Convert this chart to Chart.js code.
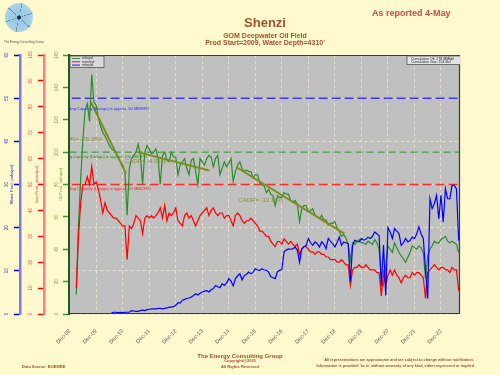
<!DOCTYPE html>
<html>
<head>
<meta charset="utf-8">
<script src="https://cdn.jsdelivr.net/npm/chart.js@4.4.1/dist/chart.umd.min.js"></script>
<style>
  body { margin: 0; background: #fffacd; font-family: "Liberation Sans", Arial, sans-serif; }
  #wrap { position: relative; width: 500px; height: 375px; overflow: hidden; }
  #shenziChart { position: absolute; left: 0; top: 0; }
  .t { position: absolute; white-space: nowrap; font-weight: bold; color: #a0522d; line-height: 1; }
  .c { transform: translateX(-50%); }
  .r { transform: translateX(-100%); text-align: right; }
  .logo {
    position: absolute; left: 5px; top: 3px; width: 28px; height: 29px; border-radius: 50%;
    background:
      radial-gradient(circle, #1d2a44 0 1.5px, rgba(0,0,0,0) 2.5px),
      repeating-conic-gradient(from 10deg, rgba(40,70,110,0.45) 0 5deg, rgba(0,0,0,0) 5deg 60deg),
      radial-gradient(circle, #8fc3e0 0, #b5dbee 100%);
  }
</style>
</head>
<body>
<div id="wrap">
  <canvas id="shenziChart" width="500" height="375"></canvas>

  <div class="logo"></div>
  <div class="t" style="left:4px;top:41px;font-size:3px;font-weight:normal;color:#555;">The Energy Consulting Group</div>

  <div class="t c" style="left:265px;top:16px;font-size:13px;">Shenzi</div>
  <div class="t c" style="left:265px;top:32px;font-size:7px;">GOM Deepwater Oil Field</div>
  <div class="t c" style="left:265px;top:39px;font-size:7px;">Prod Start=2009, Water Depth=4310'</div>
  <div class="t" style="left:372px;top:9px;font-size:9px;color:#c0504d;">As reported 4-May</div>

  <div class="t c" style="left:240px;top:353px;font-size:6px;">The Energy Consulting Group</div>
  <div class="t c" style="left:240px;top:359px;font-size:4px;">Copyright@2023</div>
  <div class="t c" style="left:240px;top:364.5px;font-size:4px;">All Rights Reserved</div>
  <div class="t" style="left:22px;top:364.5px;font-size:4px;">Data Source: BOEMRE</div>
  <div class="t r" style="left:474px;top:359px;font-size:3.8px;">All representations are approximate and are subject to change without notification.</div>
  <div class="t r" style="left:474px;top:364.5px;font-size:3.8px;">Information is provided 'as is' without warranty of any kind, either expressed or implied</div>
</div>

<script>
// x axis: months counted from Dec-08
const tickMonths = [0, 12, 24, 36, 48, 60, 72, 84, 96, 108, 120, 132, 144, 156, 168];
const tickLabels = ['Dec-08', 'Dec-09', 'Dec-10', 'Dec-11', 'Dec-12', 'Dec-13', 'Dec-14', 'Dec-15',
                    'Dec-16', 'Dec-17', 'Dec-18', 'Dec-19', 'Dec-20', 'Dec-21', 'Dec-22'];
const lastMonth = 176;

// monthly production, oil and gas from Mar-09, water from Jul-10
const oilStart = 3;
const oilMbopd = [
  12, 55, 84, 108, 126, 130, 119, 148, 131, 129, 121, 116,
  112, 110, 107, 104, 102, 101, 100, 96, 94, 92, 88, 61,
  90, 96, 98, 100, 105, 98, 80, 100, 104, 102, 99, 100,
  102, 96, 80, 98, 100, 95, 94, 100, 97, 97, 86, 92,
  94, 96, 90, 86, 95, 96, 88, 80, 96, 94, 92, 96,
  98, 97, 91, 96, 98, 86, 90, 94, 91, 93, 96, 82,
  88, 92, 94, 90, 88, 89, 88, 88, 84, 86, 86, 81,
  80, 79, 75, 77, 74, 73, 67, 73, 72, 72, 75, 74,
  74, 70, 69, 70, 68, 57, 65, 67, 67, 63, 64, 65,
  61, 60, 59, 61, 58, 58, 55, 56, 56, 57, 53, 51,
  48, 49, 47, 43, 33, 44, 43, 45, 46, 44, 44, 43,
  45, 44, 43, 46, 44, 40, 22, 18, 30, 42, 40, 38,
  44, 41, 38, 36, 34, 32, 35, 38, 42, 41, 40, 42,
  41, 38, 22, 36, 40, 42, 45, 44, 44, 46, 47, 48,
  45, 44, 45, 44, 43, 38
];
const gasStart = 3;
const gasMmcfpd = [
  10, 30, 43, 50, 50, 53, 50, 57, 50, 51, 48, 44,
  39, 43, 40, 39, 38, 37, 37, 36, 35, 34, 34, 21,
  34, 33, 35, 38, 37, 36, 31, 37, 38, 37, 38, 37,
  38, 39, 41, 37, 42, 36, 39, 38, 39, 41, 36, 35,
  34, 38, 39, 37, 38, 36, 34, 36, 38, 39, 40, 41,
  38, 40, 41, 39, 38, 39, 39, 37, 38, 38, 36, 34,
  38, 39, 38, 36, 35, 36, 36, 37, 36, 35, 34, 32,
  32, 31, 30, 30, 28, 27, 26, 28, 28, 27, 29, 28,
  27, 28, 27, 26, 27, 23, 25, 26, 26, 25, 24, 24,
  23, 24, 24, 23, 23, 22, 22, 21, 21, 21, 20, 20,
  21, 20, 19, 19, 11, 17, 18, 18, 19, 18, 18, 19,
  18, 17, 17, 17, 16, 16, 7, 16, 11, 15, 17, 15,
  17, 15, 14, 12, 14, 15, 14, 14, 16, 15, 16, 16,
  15, 14, 6, 16, 17, 18, 19, 18, 17, 18, 18, 17,
  17, 16, 18, 17, 17, 9
];
const waterStart = 19;
const waterMbwpd = [
  0.3, 0.4, 0.4, 0.3, 0.4, 0.3, 0.4, 0.4, 0.4, 0.8, 0.7, 0.6,
  0.6, 0.8, 0.9, 0.8, 1.0, 1.1, 1.2, 1.2, 1.2, 1.3, 1.3, 1.2,
  1.3, 1.4, 1.6, 1.6, 1.7, 2.0, 2.6, 2.5, 3.2, 3.4, 3.6, 3.7,
  3.9, 4.3, 4.7, 4.4, 4.8, 5.1, 5.3, 5.4, 5.1, 5.6, 5.9, 6.6,
  6.3, 6.1, 7.0, 6.6, 7.2, 8.2, 7.6, 6.5, 8.2, 8.8, 9.3, 7.9,
  8.9, 9.2, 9.7, 9.3, 9.7, 10.5, 10.2, 10.1, 10.5, 10.2, 10.1, 9.7,
  8.6, 8.4, 8.2, 9.8, 10.1, 10.3, 14.4, 14.8, 15.1, 15.0, 15.1, 15.5,
  14.8, 12.0, 15.1, 15.6, 15.9, 17.5, 16.5, 15.9, 16.7, 16.3, 15.5, 16.7,
  16.2, 15.1, 17.5, 16.8, 16.3, 15.5, 16.6, 17.8, 15.9, 16.7, 16.5, 16.3,
  7.4, 15.9, 17.1, 16.8, 16.7, 17.5, 17.1, 17.3, 17.8, 17.5, 18.0, 19.0,
  18.6, 18.2, 6.6, 16.0, 4.3, 20.0, 19.0, 17.5, 19.8, 19.2, 18.6, 15.9,
  16.5, 17.5, 16.7, 17.0, 17.8, 17.5, 18.5, 20.2, 18.5, 17.5, 10.1, 3.6,
  26.7, 24.4, 25.6, 27.5, 22.0, 27.5, 21.3, 29.0, 26.7, 26.7, 29.8, 29.8,
  29.0, 17.0
];

// decline trend lines on oil (month, mbopd)
const trendMonths = [[9.6, 25.5], [30.8, 63.2], [75.3, 124.3]];
const trendOil = [[131, 86.7], [100, 88.6], [90.8, 49.6]];
const cadrLabels = ['CADR= -28.26%', 'CADR= -4.51%', 'CADR= -13.16%'];

// design capacities
const capWater = 50, capOil = 100, capGas = 50;

const seriesLabels = ['mbopd', 'mmcfpd', 'mbwpd'];
const cumulativeText = ['Cumulative Oil: 278 MMbbl', 'Cumulative Gas: 154 Bcf'];

const FONT = '"Liberation Sans", Arial, sans-serif';
Chart.defaults.font.family = FONT;

const toPoints = (vals, start) => vals.map((v, i) => ({ x: start + i, y: v }));
const flat = (y) => [{ x: -5, y: y }, { x: lastMonth + 5, y: y }];

const datasets = [];
trendMonths.forEach((m, k) => {
  datasets.push({
    data: [{ x: m[0], y: trendOil[k][0] }, { x: m[1], y: trendOil[k][1] }],
    yAxisID: 'yOil', borderColor: '#7f8c1e', borderWidth: 2
  });
});
datasets.push(
  { label: seriesLabels[2], data: toPoints(waterMbwpd, waterStart), yAxisID: 'yWater', borderColor: '#0000ff', borderWidth: 1.2 },
  { label: seriesLabels[1], data: toPoints(gasMmcfpd, gasStart), yAxisID: 'yGas', borderColor: '#ff0000', borderWidth: 1.2 },
  { label: seriesLabels[0], data: toPoints(oilMbopd, oilStart), yAxisID: 'yOil', borderColor: '#2a8c2a', borderWidth: 1.2 },
  { data: flat(capWater), yAxisID: 'yWater', borderColor: '#3a3aff', borderWidth: 1.5, borderDash: [9, 4] },
  { data: flat(capOil), yAxisID: 'yOil', borderColor: '#1f991f', borderWidth: 1, borderDash: [7, 4] },
  { data: flat(capGas), yAxisID: 'yGas', borderColor: '#ff2a2a', borderWidth: 1.5, borderDash: [9, 4] }
);

function leftAxis(max, step, width, borderColor, tickColor, labelColor, pad, onChart) {
  return {
    type: 'linear', position: 'left', min: 0, max: max,
    ticks: { stepSize: step, color: labelColor, font: { size: 4.5 }, minRotation: 90, maxRotation: 90,
             crossAlign: 'center', padding: pad },
    grid: { display: true, drawOnChartArea: onChart, color: '#e6e2c4', lineWidth: 1,
            tickColor: tickColor, tickLength: 6, tickWidth: 1.5, tickBorderDash: [] },
    border: { display: true, color: borderColor, width: 2.5, dash: [3, 3] },
    afterFit: (s) => { s.width = width; }
  };
}

const capacityText = [
  { axis: 'yWater', value: capWater, prefix: 'Water Handling ', rest: 'Capacity (Design) is approx. 50 MBWPD', color: '#2b2bff', at: 8, dy: 11 },
  { axis: 'yOil', value: capOil, prefix: 'Oil Handling ', rest: 'Capacity (Design) is approx. 100 MBOPD', color: '#1f8f1f', at: 4, dy: 5 },
  { axis: 'yGas', value: capGas, prefix: 'Gas Handling ', rest: 'Capacity (Design) is approx. 50 MMCFPD', color: '#ff1a1a', at: 8, dy: 4.5 }
];
// label anchors in (month, mbopd)
const cadrAt = [[-5.2, 108], [25, 94.5], [76.3, 70.4]];
const axisTitles = [
  { axis: 'yWater', text: 'Water Prod. (mbwpd)', color: '#3333cc', inset: 8.5 },
  { axis: 'yGas', text: 'Gas Prod. (mmcfpd)', color: '#ff4040', inset: 7.5 },
  { axis: 'yOil', text: 'Oil Prod. (mbopd)', color: '#6fa544', inset: 8 }
];

const decor = {
  id: 'decor',
  beforeDraw(chart) {
    const { ctx, chartArea: a } = chart;
    ctx.save();
    ctx.fillStyle = '#c0c0c0';
    ctx.fillRect(a.left, a.top, a.right - a.left, a.bottom - a.top);
    ctx.restore();
  },
  afterDraw(chart) {
    const { ctx, chartArea: a, scales } = chart;
    ctx.save();
    // frame
    ctx.strokeStyle = '#3a3a3a';
    ctx.lineWidth = 1.2;
    ctx.beginPath();
    ctx.moveTo(a.left, a.top + 0.5); ctx.lineTo(a.right - 0.5, a.top + 0.5);
    ctx.lineTo(a.right - 0.5, a.bottom - 0.5); ctx.lineTo(a.left, a.bottom - 0.5);
    ctx.stroke();

    // texts inside the plot, clipped
    ctx.save();
    ctx.beginPath();
    ctx.rect(a.left + 1, a.top, a.right - a.left - 1, a.bottom - a.top);
    ctx.clip();
    ctx.textBaseline = 'middle';
    ctx.font = '4px ' + FONT;
    capacityText.forEach(c => {
      const y = scales[c.axis].getPixelForValue(c.value) + c.dy;
      const x = a.left + c.at - ctx.measureText(c.prefix).width;
      ctx.fillStyle = c.color;
      ctx.fillText(c.prefix + c.rest, x, y);
    });
    ctx.font = '6px ' + FONT;
    ctx.fillStyle = '#8d8d3a';
    cadrLabels.forEach((t, k) => {
      ctx.fillText(t, scales.x.getPixelForValue(cadrAt[k][0]), scales.yOil.getPixelForValue(cadrAt[k][1]));
    });

    // cumulative box
    ctx.fillStyle = '#e4e4e4';
    ctx.strokeStyle = '#555';
    ctx.lineWidth = 0.8;
    ctx.fillRect(407, a.top + 1, 60, 8.5);
    ctx.strokeRect(407, a.top + 1, 60, 8.5);
    ctx.fillStyle = '#222';
    ctx.font = '3.6px ' + FONT;
    cumulativeText.forEach((t, k) => ctx.fillText(t, 411, a.top + 3.6 + k * 3.4));
    ctx.restore();

    // legend
    const lx = a.left + 1, ly = a.top + 1;
    ctx.fillStyle = '#dadada';
    ctx.strokeStyle = '#555';
    ctx.lineWidth = 0.8;
    ctx.fillRect(lx, ly, 34, 11.5);
    ctx.strokeRect(lx, ly, 34, 11.5);
    ctx.font = '3.5px ' + FONT;
    ctx.textBaseline = 'middle';
    const legendColors = ['#2a8c2a', '#ff0000', '#0000ff'];
    seriesLabels.forEach((t, k) => {
      const y = ly + 2.5 + k * 3.3;
      ctx.strokeStyle = legendColors[k];
      ctx.lineWidth = 0.9;
      ctx.beginPath(); ctx.moveTo(lx + 2, y); ctx.lineTo(lx + 10, y); ctx.stroke();
      ctx.fillStyle = '#333';
      ctx.fillText(t, lx + 12, y);
    });

    // axis titles between tick labels and tick marks
    ctx.font = '4.2px ' + FONT;
    ctx.textAlign = 'center';
    axisTitles.forEach(t => {
      const s = scales[t.axis];
      ctx.save();
      ctx.translate(s.right - t.inset, (s.top + s.bottom) / 2);
      ctx.rotate(-Math.PI / 2);
      ctx.fillStyle = t.color;
      ctx.fillText(t.text, 0, 0);
      ctx.restore();
    });
    ctx.restore();
  }
};

new Chart(document.getElementById('shenziChart').getContext('2d'), {
  type: 'line',
  data: { datasets: datasets },
  plugins: [decor],
  options: {
    responsive: false,
    animation: false,
    layout: { padding: { left: 0, right: 40, top: 55, bottom: 21 } },
    elements: { point: { radius: 0 }, line: { tension: 0, fill: false } },
    plugins: { legend: { display: false }, tooltip: { enabled: false } },
    scales: {
      x: {
        type: 'linear', min: -0.3, max: lastMonth + 0.6,
        afterBuildTicks: (s) => { s.ticks = tickMonths.map(v => ({ value: v })); },
        ticks: { autoSkip: false, minRotation: 45, maxRotation: 45, padding: 14,
                 color: '#555', font: { size: 5.5 },
                 callback: (v, i) => tickLabels[i] },
        grid: { color: '#e6e2c4', lineWidth: 1, drawTicks: false },
        border: { display: false, dash: [3, 3] },
        afterFit: (s) => { s.height = 40; }
      },
      // left axes are stacked from the plot edge outwards in this order
      yOil: Object.assign(leftAxis(160, 20, 25, '#1e5a1e', '#3a9a3a', '#6fa544', 2.8, false),
                          { border: { display: true, color: '#1e5a1e', width: 2 } }),
      yGas: leftAxis(100, 10, 24, '#ff8080', '#ff0000', '#ff4040', 3.2, false),
      yWater: leftAxis(60, 10, 20, '#7a7aee', '#0000cc', '#3333cc', 4.5, true)
    }
  }
});
</script>
</body>
</html>
